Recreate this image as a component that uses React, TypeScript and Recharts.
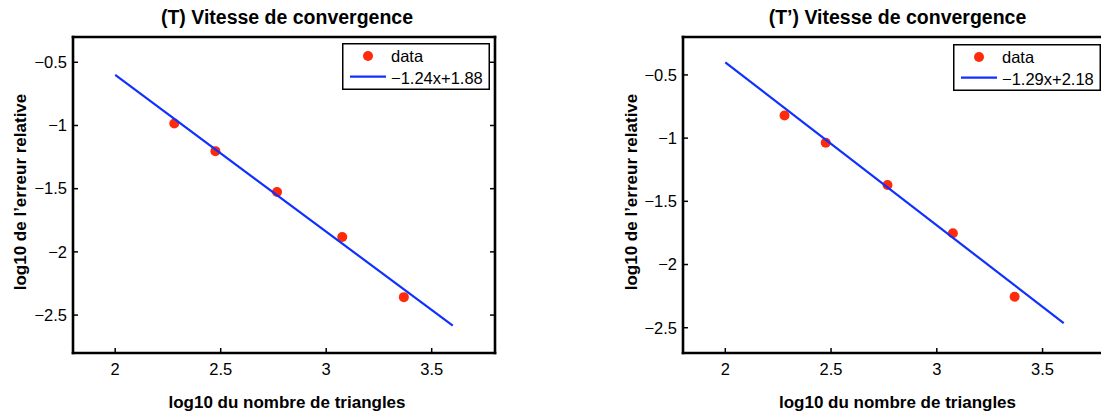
import { ScatterChart, Scatter, XAxis, YAxis, Legend } from 'recharts';

const FONT = '"Liberation Sans", Arial, Helvetica, sans-serif';
const RED = '#ff2a0a';
const BLUE = '#1030ff';

// log10 of the number of triangles (same meshes for both cases)
const logTriangles = [2.28, 2.475, 2.767, 3.076, 3.368];
// log10 of the relative error
const errT = [-0.984, -1.203, -1.526, -1.882, -2.358];
const errTprime = [-0.821, -1.037, -1.371, -1.753, -2.255];
// fitted lines, drawn between x = 2 and x = 3.6
const fitX = [2, 3.6];
const fitT = [-0.6, -2.584];
const fitTprime = [-0.4, -2.464];

const xTicks = [2, 2.5, 3, 3.5];
const yTicks = [-2.5, -2, -1.5, -1, -0.5];

const fmt = (v: number) => (v < 0 ? '\u2212' + Math.abs(v) : String(v));

const TICK_LEN = 5;

const BottomTick = ({ x, y, payload }: any) => (
  <g>
    <line x1={x} x2={x} y1={y} y2={y - TICK_LEN} stroke="#000" strokeWidth={1.5} />
    <text x={x} y={y + 22} textAnchor="middle" fontSize={16.5} fontFamily={FONT} fill="#000">
      {fmt(payload.value)}
    </text>
  </g>
);

const TopTick = ({ x, y }: any) => (
  <line x1={x} x2={x} y1={y} y2={y + TICK_LEN} stroke="#000" strokeWidth={1.5} />
);

const LeftTick = ({ x, y, payload }: any) => (
  <g>
    <line x1={x} x2={x + TICK_LEN} y1={y} y2={y} stroke="#000" strokeWidth={1.5} />
    <text x={x - 6} y={y + 5.8} textAnchor="end" fontSize={16.5} fontFamily={FONT} fill="#000">
      {fmt(payload.value)}
    </text>
  </g>
);

const RightTick = ({ x, y }: any) => (
  <line x1={x} x2={x - TICK_LEN} y1={y} y2={y} stroke="#000" strokeWidth={1.5} />
);

const Title = ({ viewBox, text }: any) => (
  <text
    x={viewBox.x + viewBox.width / 2 + 3}
    y={24}
    textAnchor="middle"
    fontSize={19.5}
    fontWeight="bold"
    fontFamily={FONT}
    fill="#000"
  >
    {text}
  </text>
);

const YTitle = ({ viewBox, text, baseX }: any) => (
  <text
    transform={`translate(${viewBox.x + baseX}, 192) rotate(-90)`}
    textAnchor="middle"
    fontSize={17}
    fontWeight="bold"
    fontFamily={FONT}
    fill="#000"
  >
    {text}
  </text>
);

const LegendBox = ({ label }: { label: string }) => (
  <svg width={148} height={47} style={{ display: 'block' }}>
    <rect x={0.75} y={0.75} width={146.5} height={45.5} fill="#fff" stroke="#000" strokeWidth={1.5} />
    <circle cx={26} cy={13} r={5} fill={RED} />
    <text x={49} y={18.7} fontSize={16.5} fontFamily={FONT} fill="#000">data</text>
    <line x1={8} x2={44} y1={33.7} y2={33.7} stroke={BLUE} strokeWidth={2.2} />
    <text x={49} y={41} fontSize={16.5} fontFamily={FONT} fill="#000">{label}</text>
  </svg>
);

const Dot = ({ cx, cy }: any) => <circle cx={cx} cy={cy} r={5} fill={RED} />;
const NoDot = () => <g />;

interface PanelProps {
  title: string;
  fitLabel: string;
  errs: number[];
  fitY: number[];
  yDomain: [number, number];
  width: number;
  leftWidth: number;
  rightWidth: number;
  yLabelX: number;
  legendLeft: number;
  legendTop: number;
}

function Panel(p: PanelProps) {
  const points = logTriangles.map((x, i) => ({ x, y: p.errs[i] }));
  const fit = fitX.map((x, i) => ({ x, y: p.fitY[i] }));
  const axisLine = { stroke: '#000', strokeWidth: 2.6, strokeLinecap: 'square' as const };

  return (
    <ScatterChart width={p.width} height={414} margin={{ top: 0, right: 0, bottom: 0, left: 0 }}>
      <XAxis
        dataKey="x"
        type="number"
        domain={[1.8, 3.8]}
        allowDataOverflow
        ticks={xTicks}
        interval={0}
        height={61}
        tickSize={0}
        tickMargin={0}
        tickLine={false}
        axisLine={axisLine}
        tick={BottomTick}
        label={{
          value: 'log10 du nombre de triangles',
          position: 'insideBottom',
          offset: 6,
          dx: 3,
          fontSize: 17,
          fontWeight: 'bold',
          fontFamily: FONT,
          fill: '#000',
        }}
      />
      <XAxis
        xAxisId="top"
        orientation="top"
        type="number"
        domain={[1.8, 3.8]}
        allowDataOverflow
        ticks={xTicks}
        interval={0}
        height={37}
        tickSize={0}
        tickMargin={0}
        tickLine={false}
        axisLine={axisLine}
        tick={TopTick}
        label={<Title text={p.title} />}
      />
      <YAxis
        dataKey="y"
        type="number"
        domain={p.yDomain}
        allowDataOverflow
        ticks={yTicks}
        interval={0}
        width={p.leftWidth}
        tickSize={0}
        tickMargin={0}
        tickLine={false}
        axisLine={axisLine}
        tick={LeftTick}
        label={<YTitle text="log10 de l’erreur relative" baseX={p.yLabelX} />}
      />
      <YAxis
        yAxisId="right"
        orientation="right"
        type="number"
        domain={p.yDomain}
        allowDataOverflow
        ticks={yTicks}
        interval={0}
        width={p.rightWidth}
        tickSize={0}
        tickMargin={0}
        tickLine={false}
        axisLine={axisLine}
        tick={RightTick}
      />
      <Legend
        layout="vertical"
        align="center"
        verticalAlign="middle"
        wrapperStyle={{ left: p.legendLeft, top: p.legendTop, width: 148, height: 47 }}
        content={() => <LegendBox label={p.fitLabel} />}
      />
      <Scatter name="data" data={points} fill={RED} shape={Dot} isAnimationActive={false} />
      <Scatter
        name={p.fitLabel}
        data={fit}
        fill={BLUE}
        line={{ stroke: BLUE, strokeWidth: 2.2 }}
        shape={NoDot}
        isAnimationActive={false}
      />
    </ScatterChart>
  );
}

export default function App() {
  return (
    <div
      style={{
        position: 'absolute',
        left: 0,
        top: 0,
        width: 1101,
        height: 414,
        overflow: 'hidden',
        background: '#fff',
        fontFamily: FONT,
      }}
    >
      <div style={{ position: 'absolute', left: 0, top: 0 }}>
        <Panel
          title="(T) Vitesse de convergence"
          fitLabel={'\u22121.24x+1.88'}
          errs={errT}
          fitY={fitT}
          yDomain={[-2.8, -0.3]}
          width={540}
          leftWidth={73}
          rightWidth={45}
          yLabelX={26}
          legendLeft={342}
          legendTop={43}
        />
      </div>
      <div style={{ position: 'absolute', left: 560, top: 0 }}>
        <Panel
          title="(T’) Vitesse de convergence"
          fitLabel={'\u22121.29x+2.18'}
          errs={errTprime}
          fitY={fitTprime}
          yDomain={[-2.7, -0.2]}
          width={560}
          leftWidth={123}
          rightWidth={14}
          yLabelX={76.5}
          legendLeft={393}
          legendTop={44}
        />
      </div>
    </div>
  );
}
